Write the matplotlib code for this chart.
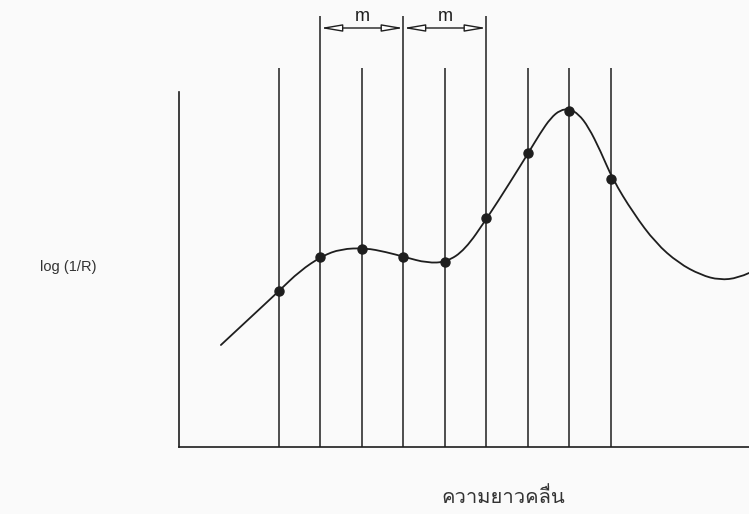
import matplotlib
matplotlib.use("Agg")
import matplotlib.pyplot as plt
from matplotlib import font_manager
from matplotlib.ft2font import FT2Font
from matplotlib.path import Path
from matplotlib.patches import PathPatch

# wavelength channels (index) and the sampled log(1/R) at each one
channel_x = [1, 2, 3, 4, 5, 6, 7, 8, 9]
channel_y = [1.56, 1.90, 1.98, 1.90, 1.85, 2.29, 2.94, 3.36, 2.68]
channel_top = [3.79, 4.31, 3.79, 4.31, 3.79, 4.31, 3.79, 3.79, 3.79]

# spectrum
spectrum_x = [-0.40, 0.30, 1.00, 1.50, 2.04, 2.49, 3.08, 3.58, 4.03, 4.57,
              5.04, 5.48, 6.02, 6.56, 7.01, 7.30, 7.55, 7.78, 8.00, 8.22,
              8.46, 8.75, 9.04, 9.54, 10.08, 10.63, 11.17, 11.62, 12.07, 12.33]
spectrum_y = [1.02, 1.29, 1.56, 1.76, 1.91, 1.98, 1.99, 1.95, 1.90, 1.84,
              1.85, 1.97, 2.29, 2.64, 2.94, 3.14, 3.29, 3.37, 3.38, 3.33,
              3.20, 2.96, 2.68, 2.34, 2.04, 1.84, 1.72, 1.67, 1.69, 1.74]

m_spans = [(2, 4), (4, 6)]
x_label = "ความยาวคลื่น"
y_label = "log (1/R)"


def find_thai_font():
    for f in font_manager.fontManager.ttflist:
        try:
            ft = FT2Font(f.fname)
            if ft.get_char_index(ord("ค")) and ft.get_char_index(ord("ื")):
                return f.name
        except Exception:
            pass
    return "DejaVu Sans"


def smooth_path(xs, ys):
    # quadratic beziers through the midpoints, ends kept
    pts = list(zip(xs, ys))
    verts = [pts[0]]
    codes = [Path.MOVETO]
    for i in range(1, len(pts) - 1):
        mid = ((pts[i][0] + pts[i + 1][0]) / 2, (pts[i][1] + pts[i + 1][1]) / 2)
        if i == len(pts) - 2:
            mid = pts[-1]
        verts += [pts[i], mid]
        codes += [Path.CURVE3, Path.CURVE3]
    return Path(verts, codes)


ink = "#1e1e1e"
fig = plt.figure(figsize=(7.49, 5.14), dpi=100, facecolor="#fafafa")
ax = fig.add_axes([179 / 749, 67 / 514, 570 / 749, 447 / 514])
ax.set_facecolor("#fafafa")
ax.set_xlim(-1.41, 12.33)
ax.set_ylim(0, 4.47)

for s in ["top", "right"]:
    ax.spines[s].set_visible(False)
ax.spines["left"].set_bounds(0, 3.55)
for s in ["left", "bottom"]:
    ax.spines[s].set_color(ink)
    ax.spines[s].set_linewidth(1.2)
ax.set_xticks([])
ax.set_yticks([])

ax.vlines(channel_x, 0, channel_top, color=ink, lw=1.1)
ax.add_patch(PathPatch(smooth_path(spectrum_x, spectrum_y), fc="none",
                       ec=ink, lw=1.3, capstyle="round"))
ax.plot(channel_x, channel_y, "o", color=ink, ms=6.5)

for a, b in m_spans:
    ax.annotate("", xy=(a, 4.19), xytext=(b, 4.19), annotation_clip=False,
                arrowprops=dict(arrowstyle="<|-|>,head_length=1.3,head_width=0.22",
                                fc="white", ec=ink, lw=1.0, shrinkA=0, shrinkB=0))
    ax.text((a + b) / 2, 4.22, "m", ha="center", va="bottom", fontsize=13,
            color=ink, family="Liberation Sans", clip_on=False)

fig.text(68 / 749, 1 - 267 / 514, y_label, ha="center", va="center",
         fontsize=10.5, color="#333333", family="Liberation Sans")
fig.text(503 / 749, 1 - 497 / 514, x_label, ha="center", va="center",
         fontsize=14.5, color="#333333", family=[find_thai_font(), "DejaVu Sans"])

fig.savefig("out.png", dpi=100, facecolor=fig.get_facecolor())
